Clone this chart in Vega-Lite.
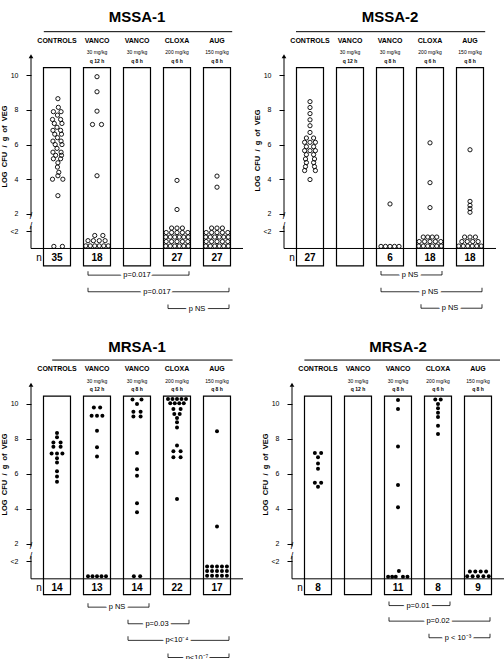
{
"$schema":"https://vega.github.io/schema/vega-lite/v6.json",
"padding":0,
"config":{"view":{"stroke":null},"font":"Liberation Sans"},
"datasets":{
"hd":[{"g":0,"name":"CONTROLS","dose":"","freq":""},{"g":1,"name":"VANCO","dose":"30 mg/kg","freq":"q 12 h"},{"g":2,"name":"VANCO","dose":"30 mg/kg","freq":"q 8 h"},{"g":3,"name":"CLOXA","dose":"200 mg/kg","freq":"q 6 h"},{"g":4,"name":"AUG","dose":"150 mg/kg","freq":"q 8 h"}],
"box":[{"p":"M1","g":0,"n":"35"},{"p":"M1","g":1,"n":"18"},{"p":"M1","g":2,"n":""},{"p":"M1","g":3,"n":"27"},{"p":"M1","g":4,"n":"27"},
{"p":"M2","g":0,"n":"27"},{"p":"M2","g":1,"n":""},{"p":"M2","g":2,"n":"6"},{"p":"M2","g":3,"n":"18"},{"p":"M2","g":4,"n":"18"},
{"p":"R1","g":0,"n":"14"},{"p":"R1","g":1,"n":"13"},{"p":"R1","g":2,"n":"14"},{"p":"R1","g":3,"n":"22"},{"p":"R1","g":4,"n":"17"},
{"p":"R2","g":0,"n":"8"},{"p":"R2","g":1,"n":""},{"p":"R2","g":2,"n":"11"},{"p":"R2","g":3,"n":"8"},{"p":"R2","g":4,"n":"9"}],
"brk":[{"p":"M1","a":1,"b":3,"v":-1.54,"lab":"p=0.017"},{"p":"M1","a":1,"b":4,"v":-2.5,"lab":"p=0.017"},{"p":"M1","a":3,"b":4,"v":-3.47,"lab":"p NS"},
{"p":"M2","a":2,"b":3,"v":-1.53,"lab":"p NS"},{"p":"M2","a":2,"b":4,"v":-2.5,"lab":"p NS"},{"p":"M2","a":3,"b":4,"v":-3.45,"lab":"p NS"},
{"p":"R1","a":1,"b":2,"v":-1.62,"lab":"p NS"},{"p":"R1","a":2,"b":3,"v":-2.57,"lab":"p=0.03"},{"p":"R1","a":2,"b":4,"v":-3.52,"lab":"p<10⁻⁴"},{"p":"R1","a":3,"b":4,"v":-4.5,"lab":"p<10⁻⁷"},
{"p":"R2","a":2,"b":3,"v":-1.53,"lab":"p=0.01"},{"p":"R2","a":2,"b":4,"v":-2.42,"lab":"p=0.02"},{"p":"R2","a":3,"b":4,"v":-3.37,"lab":"p < 10⁻³"}],
"pts":[
{"p":"M1","g":0,"v":8.65,"s":0.2},{"p":"M1","g":0,"v":8.15,"s":0.3},{"p":"M1","g":0,"v":7.9,"s":-0.8},{"p":"M1","g":0,"v":7.9,"s":0.9},{"p":"M1","g":0,"v":7.7,"s":0.1},{"p":"M1","g":0,"v":7.45,"s":-1},{"p":"M1","g":0,"v":7.45,"s":0.8},{"p":"M1","g":0,"v":7.22,"s":-0.6},{"p":"M1","g":0,"v":7.22,"s":1.1},{"p":"M1","g":0,"v":7.0,"s":0},{"p":"M1","g":0,"v":6.82,"s":-0.9},{"p":"M1","g":0,"v":6.82,"s":0.8},{"p":"M1","g":0,"v":6.6,"s":-0.5},{"p":"M1","g":0,"v":6.6,"s":1},{"p":"M1","g":0,"v":6.4,"s":0.1},{"p":"M1","g":0,"v":6.2,"s":-0.9},{"p":"M1","g":0,"v":6.2,"s":0.9},{"p":"M1","g":0,"v":6.0,"s":-0.4},{"p":"M1","g":0,"v":6.0,"s":1.1},{"p":"M1","g":0,"v":5.78,"s":0},{"p":"M1","g":0,"v":5.56,"s":-0.9},{"p":"M1","g":0,"v":5.56,"s":0.9},{"p":"M1","g":0,"v":5.38,"s":-0.3},{"p":"M1","g":0,"v":5.38,"s":1},{"p":"M1","g":0,"v":5.18,"s":-0.8},{"p":"M1","g":0,"v":5.18,"s":0.8},{"p":"M1","g":0,"v":4.95,"s":0.2},{"p":"M1","g":0,"v":4.7,"s":0.1},{"p":"M1","g":0,"v":4.4,"s":0.4},{"p":"M1","g":0,"v":4.2,"s":0.2},{"p":"M1","g":0,"v":4.0,"s":-1},{"p":"M1","g":0,"v":4.0,"s":1.3},{"p":"M1","g":0,"v":3.05,"s":0.2},{"p":"M1","g":0,"v":0.12,"s":-0.7},{"p":"M1","g":0,"v":0.12,"s":1.2},
{"p":"M1","g":1,"v":9.92,"s":0},{"p":"M1","g":1,"v":9.05,"s":0},{"p":"M1","g":1,"v":7.93,"s":0},{"p":"M1","g":1,"v":7.16,"s":-1},{"p":"M1","g":1,"v":7.16,"s":1},{"p":"M1","g":1,"v":4.2,"s":0},{"p":"M1","g":1,"v":0.75,"s":-0.5},{"p":"M1","g":1,"v":0.75,"s":1.3},{"p":"M1","g":1,"v":0.45,"s":-2},{"p":"M1","g":1,"v":0.45,"s":-0.8},{"p":"M1","g":1,"v":0.45,"s":0.5},{"p":"M1","g":1,"v":0.45,"s":1.8},{"p":"M1","g":1,"v":0.15,"s":-2.5},{"p":"M1","g":1,"v":0.15,"s":-1.5},{"p":"M1","g":1,"v":0.15,"s":-0.5},{"p":"M1","g":1,"v":0.15,"s":0.5},{"p":"M1","g":1,"v":0.15,"s":1.5},{"p":"M1","g":1,"v":0.15,"s":2.5},
{"p":"M1","g":3,"v":3.93,"s":0},{"p":"M1","g":3,"v":2.25,"s":0},
{"p":"M1","g":3,"v":0.14,"s":-2.5},{"p":"M1","g":3,"v":0.14,"s":-1.5},{"p":"M1","g":3,"v":0.14,"s":-0.5},{"p":"M1","g":3,"v":0.14,"s":0.5},{"p":"M1","g":3,"v":0.14,"s":1.5},{"p":"M1","g":3,"v":0.14,"s":2.5},
{"p":"M1","g":3,"v":0.4,"s":-2.4},{"p":"M1","g":3,"v":0.4,"s":-1.2},{"p":"M1","g":3,"v":0.4,"s":0},{"p":"M1","g":3,"v":0.4,"s":1.2},{"p":"M1","g":3,"v":0.4,"s":2.4},
{"p":"M1","g":3,"v":0.66,"s":-2.5},{"p":"M1","g":3,"v":0.66,"s":-1.5},{"p":"M1","g":3,"v":0.66,"s":-0.5},{"p":"M1","g":3,"v":0.66,"s":0.5},{"p":"M1","g":3,"v":0.66,"s":1.5},{"p":"M1","g":3,"v":0.66,"s":2.5},
{"p":"M1","g":3,"v":0.92,"s":-2.4},{"p":"M1","g":3,"v":0.92,"s":-1.2},{"p":"M1","g":3,"v":0.92,"s":0},{"p":"M1","g":3,"v":0.92,"s":1.2},{"p":"M1","g":3,"v":0.92,"s":2.4},
{"p":"M1","g":3,"v":1.18,"s":-1.2},{"p":"M1","g":3,"v":1.18,"s":0},{"p":"M1","g":3,"v":1.18,"s":1.2},
{"p":"M1","g":4,"v":4.18,"s":0},{"p":"M1","g":4,"v":3.54,"s":0},
{"p":"M1","g":4,"v":0.14,"s":-2.5},{"p":"M1","g":4,"v":0.14,"s":-1.5},{"p":"M1","g":4,"v":0.14,"s":-0.5},{"p":"M1","g":4,"v":0.14,"s":0.5},{"p":"M1","g":4,"v":0.14,"s":1.5},{"p":"M1","g":4,"v":0.14,"s":2.5},
{"p":"M1","g":4,"v":0.4,"s":-2.4},{"p":"M1","g":4,"v":0.4,"s":-1.2},{"p":"M1","g":4,"v":0.4,"s":0},{"p":"M1","g":4,"v":0.4,"s":1.2},{"p":"M1","g":4,"v":0.4,"s":2.4},
{"p":"M1","g":4,"v":0.66,"s":-2.5},{"p":"M1","g":4,"v":0.66,"s":-1.5},{"p":"M1","g":4,"v":0.66,"s":-0.5},{"p":"M1","g":4,"v":0.66,"s":0.5},{"p":"M1","g":4,"v":0.66,"s":1.5},{"p":"M1","g":4,"v":0.66,"s":2.5},
{"p":"M1","g":4,"v":0.92,"s":-2.4},{"p":"M1","g":4,"v":0.92,"s":-1.2},{"p":"M1","g":4,"v":0.92,"s":0},{"p":"M1","g":4,"v":0.92,"s":1.2},{"p":"M1","g":4,"v":0.92,"s":2.4},
{"p":"M1","g":4,"v":1.18,"s":-1.2},{"p":"M1","g":4,"v":1.18,"s":0},{"p":"M1","g":4,"v":1.18,"s":1.2},
{"p":"M2","g":0,"v":8.48,"s":0},{"p":"M2","g":0,"v":8.14,"s":0},{"p":"M2","g":0,"v":7.79,"s":0},{"p":"M2","g":0,"v":7.43,"s":0},{"p":"M2","g":0,"v":7.09,"s":0},{"p":"M2","g":0,"v":6.7,"s":0},{"p":"M2","g":0,"v":6.38,"s":-0.8},{"p":"M2","g":0,"v":6.38,"s":0.8},{"p":"M2","g":0,"v":6.13,"s":-1.2},{"p":"M2","g":0,"v":6.13,"s":0},{"p":"M2","g":0,"v":6.13,"s":1.2},{"p":"M2","g":0,"v":5.88,"s":-0.8},{"p":"M2","g":0,"v":5.88,"s":0.8},{"p":"M2","g":0,"v":5.65,"s":-1.2},{"p":"M2","g":0,"v":5.65,"s":0},{"p":"M2","g":0,"v":5.65,"s":1.2},{"p":"M2","g":0,"v":5.42,"s":-0.8},{"p":"M2","g":0,"v":5.42,"s":0.8},{"p":"M2","g":0,"v":5.17,"s":-1},{"p":"M2","g":0,"v":5.17,"s":1},{"p":"M2","g":0,"v":4.96,"s":-0.8},{"p":"M2","g":0,"v":4.96,"s":0.8},{"p":"M2","g":0,"v":4.73,"s":-1},{"p":"M2","g":0,"v":4.73,"s":1},{"p":"M2","g":0,"v":4.5,"s":-1.2},{"p":"M2","g":0,"v":4.5,"s":1.2},{"p":"M2","g":0,"v":3.98,"s":0},
{"p":"M2","g":2,"v":2.57,"s":0},{"p":"M2","g":2,"v":0.12,"s":-2},{"p":"M2","g":2,"v":0.12,"s":-1},{"p":"M2","g":2,"v":0.12,"s":0},{"p":"M2","g":2,"v":0.12,"s":1},{"p":"M2","g":2,"v":0.12,"s":2},
{"p":"M2","g":3,"v":6.1,"s":0},{"p":"M2","g":3,"v":3.8,"s":0},{"p":"M2","g":3,"v":2.36,"s":0},
{"p":"M2","g":3,"v":0.14,"s":-2.5},{"p":"M2","g":3,"v":0.14,"s":-1.5},{"p":"M2","g":3,"v":0.14,"s":-0.5},{"p":"M2","g":3,"v":0.14,"s":0.5},{"p":"M2","g":3,"v":0.14,"s":1.5},{"p":"M2","g":3,"v":0.14,"s":2.5},
{"p":"M2","g":3,"v":0.4,"s":-2.4},{"p":"M2","g":3,"v":0.4,"s":-1.2},{"p":"M2","g":3,"v":0.4,"s":0},{"p":"M2","g":3,"v":0.4,"s":1.2},{"p":"M2","g":3,"v":0.4,"s":2.4},
{"p":"M2","g":3,"v":0.66,"s":-1.5},{"p":"M2","g":3,"v":0.66,"s":-0.5},{"p":"M2","g":3,"v":0.66,"s":0.5},{"p":"M2","g":3,"v":0.66,"s":1.5},
{"p":"M2","g":4,"v":5.7,"s":0},{"p":"M2","g":4,"v":2.72,"s":0},{"p":"M2","g":4,"v":2.49,"s":0},{"p":"M2","g":4,"v":2.3,"s":0},{"p":"M2","g":4,"v":2.09,"s":0},
{"p":"M2","g":4,"v":0.14,"s":-2.5},{"p":"M2","g":4,"v":0.14,"s":-1.5},{"p":"M2","g":4,"v":0.14,"s":-0.5},{"p":"M2","g":4,"v":0.14,"s":0.5},{"p":"M2","g":4,"v":0.14,"s":1.5},{"p":"M2","g":4,"v":0.14,"s":2.5},
{"p":"M2","g":4,"v":0.4,"s":-1.8},{"p":"M2","g":4,"v":0.4,"s":-0.6},{"p":"M2","g":4,"v":0.4,"s":0.6},{"p":"M2","g":4,"v":0.4,"s":1.8},
{"p":"M2","g":4,"v":0.66,"s":-1.2},{"p":"M2","g":4,"v":0.66,"s":0},{"p":"M2","g":4,"v":0.66,"s":1.2},
{"p":"R1","g":0,"v":8.34,"s":0},{"p":"R1","g":0,"v":8.09,"s":0},{"p":"R1","g":0,"v":7.8,"s":-0.8},{"p":"R1","g":0,"v":7.8,"s":0.8},{"p":"R1","g":0,"v":7.55,"s":-0.8},{"p":"R1","g":0,"v":7.55,"s":0.8},{"p":"R1","g":0,"v":7.17,"s":-1.2},{"p":"R1","g":0,"v":7.17,"s":0},{"p":"R1","g":0,"v":7.17,"s":1.2},{"p":"R1","g":0,"v":6.9,"s":0},{"p":"R1","g":0,"v":6.65,"s":0},{"p":"R1","g":0,"v":6.15,"s":0},{"p":"R1","g":0,"v":5.85,"s":0},{"p":"R1","g":0,"v":5.55,"s":0},
{"p":"R1","g":1,"v":9.8,"s":-0.7},{"p":"R1","g":1,"v":9.8,"s":0.7},{"p":"R1","g":1,"v":9.32,"s":-1.2},{"p":"R1","g":1,"v":9.32,"s":0},{"p":"R1","g":1,"v":9.32,"s":1.2},{"p":"R1","g":1,"v":8.47,"s":0},{"p":"R1","g":1,"v":7.52,"s":0},{"p":"R1","g":1,"v":7.0,"s":0},{"p":"R1","g":1,"v":0.15,"s":-2},{"p":"R1","g":1,"v":0.15,"s":-1},{"p":"R1","g":1,"v":0.15,"s":0},{"p":"R1","g":1,"v":0.15,"s":1},{"p":"R1","g":1,"v":0.15,"s":2},
{"p":"R1","g":2,"v":10.25,"s":-1},{"p":"R1","g":2,"v":10.25,"s":1},{"p":"R1","g":2,"v":10.0,"s":0},{"p":"R1","g":2,"v":9.55,"s":-0.8},{"p":"R1","g":2,"v":9.55,"s":0.8},{"p":"R1","g":2,"v":9.28,"s":-0.8},{"p":"R1","g":2,"v":9.28,"s":0.8},{"p":"R1","g":2,"v":7.2,"s":0},{"p":"R1","g":2,"v":6.26,"s":0},{"p":"R1","g":2,"v":5.9,"s":0},{"p":"R1","g":2,"v":4.32,"s":0},{"p":"R1","g":2,"v":3.81,"s":0},{"p":"R1","g":2,"v":0.15,"s":-0.7},{"p":"R1","g":2,"v":0.15,"s":0.7},
{"p":"R1","g":3,"v":10.28,"s":-2},{"p":"R1","g":3,"v":10.28,"s":-1},{"p":"R1","g":3,"v":10.28,"s":0},{"p":"R1","g":3,"v":10.28,"s":1},{"p":"R1","g":3,"v":10.28,"s":2},{"p":"R1","g":3,"v":10.04,"s":-1.5},{"p":"R1","g":3,"v":10.04,"s":-0.5},{"p":"R1","g":3,"v":10.04,"s":0.5},{"p":"R1","g":3,"v":10.04,"s":1.5},{"p":"R1","g":3,"v":9.71,"s":-0.8},{"p":"R1","g":3,"v":9.71,"s":0.8},{"p":"R1","g":3,"v":9.43,"s":-0.6},{"p":"R1","g":3,"v":9.43,"s":0.6},{"p":"R1","g":3,"v":9.2,"s":0},{"p":"R1","g":3,"v":8.95,"s":0},{"p":"R1","g":3,"v":8.66,"s":0},{"p":"R1","g":3,"v":7.62,"s":0},{"p":"R1","g":3,"v":7.29,"s":-0.8},{"p":"R1","g":3,"v":7.29,"s":0.8},{"p":"R1","g":3,"v":6.95,"s":-0.8},{"p":"R1","g":3,"v":6.95,"s":0.8},{"p":"R1","g":3,"v":4.57,"s":0},
{"p":"R1","g":4,"v":8.44,"s":0},{"p":"R1","g":4,"v":2.99,"s":0},
{"p":"R1","g":4,"v":0.17,"s":-2.2},{"p":"R1","g":4,"v":0.17,"s":-1.1},{"p":"R1","g":4,"v":0.17,"s":0},{"p":"R1","g":4,"v":0.17,"s":1.1},{"p":"R1","g":4,"v":0.17,"s":2.2},
{"p":"R1","g":4,"v":0.44,"s":-2.2},{"p":"R1","g":4,"v":0.44,"s":-1.1},{"p":"R1","g":4,"v":0.44,"s":0},{"p":"R1","g":4,"v":0.44,"s":1.1},{"p":"R1","g":4,"v":0.44,"s":2.2},
{"p":"R1","g":4,"v":0.7,"s":-2.2},{"p":"R1","g":4,"v":0.7,"s":-1.1},{"p":"R1","g":4,"v":0.7,"s":0},{"p":"R1","g":4,"v":0.7,"s":1.1},{"p":"R1","g":4,"v":0.7,"s":2.2},
{"p":"R2","g":0,"v":7.2,"s":-0.7},{"p":"R2","g":0,"v":7.2,"s":0.7},{"p":"R2","g":0,"v":6.95,"s":0},{"p":"R2","g":0,"v":6.6,"s":0},{"p":"R2","g":0,"v":6.3,"s":0},{"p":"R2","g":0,"v":5.5,"s":-0.7},{"p":"R2","g":0,"v":5.5,"s":0.7},{"p":"R2","g":0,"v":5.27,"s":0},
{"p":"R2","g":2,"v":10.23,"s":0},{"p":"R2","g":2,"v":9.71,"s":0},{"p":"R2","g":2,"v":7.56,"s":0},{"p":"R2","g":2,"v":5.37,"s":0},{"p":"R2","g":2,"v":4.09,"s":0},{"p":"R2","g":2,"v":0.45,"s":0.2},{"p":"R2","g":2,"v":0.12,"s":-2.2},{"p":"R2","g":2,"v":0.12,"s":-1.3},{"p":"R2","g":2,"v":0.12,"s":-0.5},{"p":"R2","g":2,"v":0.12,"s":1.1},{"p":"R2","g":2,"v":0.12,"s":2.1},
{"p":"R2","g":3,"v":10.25,"s":-0.6},{"p":"R2","g":3,"v":10.25,"s":0.6},{"p":"R2","g":3,"v":10.0,"s":0},{"p":"R2","g":3,"v":9.75,"s":0},{"p":"R2","g":3,"v":9.5,"s":0},{"p":"R2","g":3,"v":9.25,"s":0},{"p":"R2","g":3,"v":8.75,"s":0},{"p":"R2","g":3,"v":8.28,"s":0},
{"p":"R2","g":4,"v":0.15,"s":-2.4},{"p":"R2","g":4,"v":0.42,"s":-1.8},{"p":"R2","g":4,"v":0.15,"s":-1.2},{"p":"R2","g":4,"v":0.42,"s":-0.6},{"p":"R2","g":4,"v":0.15,"s":0},{"p":"R2","g":4,"v":0.42,"s":0.6},{"p":"R2","g":4,"v":0.15,"s":1.2},{"p":"R2","g":4,"v":0.42,"s":1.8},{"p":"R2","g":4,"v":0.15,"s":2.4}
]},
"spacing":24,
"vconcat":[
{"spacing":41,"bounds":"flush","hconcat":[
{"width":212,"height":316,"resolve":{"scale":{"x":"independent"}},"layer":[
 {"layer":[
  {"data":{"name":"box"},"transform":[{"filter":"datum.p=='M1'"}],"mark":{"type":"rect","fill":"white","stroke":"black","strokeWidth":1.2,"xOffset":-13.5,"x2Offset":13.5},"encoding":{"x":{"field":"g","type":"quantitative","scale":{"domain":[-0.65,4.65],"nice":false,"zero":false},"axis":null},"x2":{"field":"g"},"y":{"datum":-1,"type":"quantitative","scale":{"domain":[-3.9,14.35],"nice":false,"zero":false}},"y2":{"datum":10.45}}},
  {"data":{"values":[{}]},"mark":{"type":"rule","color":"black","strokeWidth":1},"encoding":{"y":{"datum":0,"type":"quantitative","scale":{"domain":[-3.9,14.35],"nice":false,"zero":false}}}},
  {"data":{"values":[{}]},"mark":{"type":"rule","color":"black","strokeWidth":1},"encoding":{"x":{"datum":-0.65,"type":"quantitative","scale":{"domain":[-0.65,4.65],"nice":false,"zero":false},"axis":null},"y":{"datum":1.85,"type":"quantitative","scale":{"domain":[-3.9,14.35],"nice":false,"zero":false}},"y2":{"datum":11.0}}},
  {"data":{"values":[{}]},"mark":{"type":"rule","color":"black","strokeWidth":1},"encoding":{"x":{"datum":-0.65,"type":"quantitative","scale":{"domain":[-0.65,4.65],"nice":false,"zero":false},"axis":null},"y":{"datum":0,"type":"quantitative","scale":{"domain":[-3.9,14.35],"nice":false,"zero":false}},"y2":{"datum":1.3}}},
  {"data":{"values":[{}]},"mark":{"type":"text","fontSize":9,"color":"black","align":"center","baseline":"middle"},"encoding":{"x":{"datum":-0.65,"type":"quantitative","scale":{"domain":[-0.65,4.65],"nice":false,"zero":false},"axis":null},"y":{"datum":1.85,"type":"quantitative","scale":{"domain":[-3.9,14.35],"nice":false,"zero":false}},"text":{"value":"/"}}},
  {"data":{"values":[{}]},"mark":{"type":"text","fontSize":9,"color":"black","align":"center","baseline":"middle"},"encoding":{"x":{"datum":-0.65,"type":"quantitative","scale":{"domain":[-0.65,4.65],"nice":false,"zero":false},"axis":null},"y":{"datum":1.3,"type":"quantitative","scale":{"domain":[-3.9,14.35],"nice":false,"zero":false}},"text":{"value":"/"}}},
  {"data":{"values":[{}]},"mark":{"type":"point","shape":"triangle-up","filled":true,"color":"black","opacity":1,"size":22},"encoding":{"x":{"datum":-0.65,"type":"quantitative","scale":{"domain":[-0.65,4.65],"nice":false,"zero":false},"axis":null},"y":{"datum":11.1,"type":"quantitative","scale":{"domain":[-3.9,14.35],"nice":false,"zero":false}}}},
  {"data":{"values":[{}]},"mark":{"type":"rule","color":"black","strokeWidth":1},"encoding":{"x":{"datum":-0.33,"type":"quantitative","scale":{"domain":[-0.65,4.65],"nice":false,"zero":false},"axis":null},"x2":{"datum":4.38},"y":{"datum":12.52,"type":"quantitative","scale":{"domain":[-3.9,14.35],"nice":false,"zero":false}}}},
  {"data":{"values":[{}]},"mark":{"type":"text","fontSize":15,"fontWeight":"bold","color":"black","align":"center","baseline":"middle"},"encoding":{"x":{"datum":2,"type":"quantitative","scale":{"domain":[-0.65,4.65],"nice":false,"zero":false},"axis":null},"y":{"datum":13.35,"type":"quantitative","scale":{"domain":[-3.9,14.35],"nice":false,"zero":false}},"text":{"value":"MSSA-1"}}},
  {"data":{"name":"hd"},"mark":{"type":"text","fontSize":7,"fontWeight":"bold","color":"black","align":"center","baseline":"middle"},"encoding":{"x":{"field":"g","type":"quantitative","scale":{"domain":[-0.65,4.65],"nice":false,"zero":false},"axis":null},"y":{"datum":12.0,"type":"quantitative","scale":{"domain":[-3.9,14.35],"nice":false,"zero":false}},"text":{"field":"name"}}},
  {"data":{"name":"hd"},"mark":{"type":"text","fontSize":5,"color":"black","align":"center","baseline":"middle"},"encoding":{"x":{"field":"g","type":"quantitative","scale":{"domain":[-0.65,4.65],"nice":false,"zero":false},"axis":null},"y":{"datum":11.33,"type":"quantitative","scale":{"domain":[-3.9,14.35],"nice":false,"zero":false}},"text":{"field":"dose"}}},
  {"data":{"name":"hd"},"mark":{"type":"text","fontSize":5,"fontWeight":"bold","color":"black","align":"center","baseline":"middle"},"encoding":{"x":{"field":"g","type":"quantitative","scale":{"domain":[-0.65,4.65],"nice":false,"zero":false},"axis":null},"y":{"datum":10.83,"type":"quantitative","scale":{"domain":[-3.9,14.35],"nice":false,"zero":false}},"text":{"field":"freq"}}},
  {"data":{"values":[{}]},"mark":{"type":"text","fontSize":10,"color":"black","align":"center","baseline":"middle"},"encoding":{"x":{"datum":-0.45,"type":"quantitative","scale":{"domain":[-0.65,4.65],"nice":false,"zero":false},"axis":null},"y":{"datum":-0.54,"type":"quantitative","scale":{"domain":[-3.9,14.35],"nice":false,"zero":false}},"text":{"value":"n"}}},
  {"data":{"name":"box"},"transform":[{"filter":"datum.p=='M1'"}],"mark":{"type":"text","fontSize":10,"fontWeight":"bold","color":"black","align":"center","baseline":"middle"},"encoding":{"x":{"field":"g","type":"quantitative","scale":{"domain":[-0.65,4.65],"nice":false,"zero":false},"axis":null},"y":{"datum":-0.54,"type":"quantitative","scale":{"domain":[-3.9,14.35],"nice":false,"zero":false}},"text":{"field":"n"}}},
  {"data":{"name":"brk"},"transform":[{"filter":"datum.p=='M1'"}],"mark":{"type":"rule","color":"black","strokeWidth":0.8,"xOffset":-9,"x2Offset":12},"encoding":{"x":{"field":"a","type":"quantitative","scale":{"domain":[-0.65,4.65],"nice":false,"zero":false},"axis":null},"x2":{"field":"b"},"y":{"field":"v","type":"quantitative","scale":{"domain":[-3.9,14.35],"nice":false,"zero":false}}}},
  {"data":{"name":"brk"},"transform":[{"filter":"datum.p=='M1'"}],"mark":{"type":"tick","orient":"vertical","color":"black","size":4,"thickness":0.8,"yOffset":-2,"xOffset":-9,"opacity":1},"encoding":{"x":{"field":"a","type":"quantitative","scale":{"domain":[-0.65,4.65],"nice":false,"zero":false},"axis":null},"y":{"field":"v","type":"quantitative","scale":{"domain":[-3.9,14.35],"nice":false,"zero":false}}}},
  {"data":{"name":"brk"},"transform":[{"filter":"datum.p=='M1'"}],"mark":{"type":"tick","orient":"vertical","color":"black","size":4,"thickness":0.8,"yOffset":-2,"xOffset":12,"opacity":1},"encoding":{"x":{"field":"b","type":"quantitative","scale":{"domain":[-0.65,4.65],"nice":false,"zero":false},"axis":null},"y":{"field":"v","type":"quantitative","scale":{"domain":[-3.9,14.35],"nice":false,"zero":false}}}},
  {"data":{"name":"brk"},"transform":[{"filter":"datum.p=='M1'"},{"fold":["a","b"],"as":["end","gx"]}],"mark":{"type":"text","fontSize":7.5,"fill":"white","stroke":"white","strokeWidth":5,"align":"center","baseline":"middle"},"encoding":{"x":{"field":"gx","aggregate":"mean","type":"quantitative","scale":{"domain":[-0.65,4.65],"nice":false,"zero":false},"axis":null},"y":{"field":"v","type":"quantitative","scale":{"domain":[-3.9,14.35],"nice":false,"zero":false}},"text":{"field":"lab"}}},
  {"data":{"name":"brk"},"transform":[{"filter":"datum.p=='M1'"},{"fold":["a","b"],"as":["end","gx"]}],"mark":{"type":"text","fontSize":7.5,"color":"black","align":"center","baseline":"middle"},"encoding":{"x":{"field":"gx","aggregate":"mean","type":"quantitative","scale":{"domain":[-0.65,4.65],"nice":false,"zero":false},"axis":null},"y":{"field":"v","type":"quantitative","scale":{"domain":[-3.9,14.35],"nice":false,"zero":false}},"text":{"field":"lab"}}}
 ]},
 {"data":{"name":"pts"},"transform":[{"filter":"datum.p=='M1'"}],"mark":{"type":"point","shape":"circle","filled":false,"color":"black","strokeWidth":0.9,"size":18,"opacity":1},"encoding":{"x":{"field":"g","type":"ordinal","scale":{"type":"band","domain":[0,1,2,3,4],"paddingInner":0.325,"paddingOuter":0.3125},"axis":null},"xOffset":{"field":"s","type":"quantitative","scale":{"domain":[-3,3]}},"y":{"field":"v","type":"quantitative","scale":{"domain":[-3.9,14.35],"nice":false,"zero":false},"axis":{"values":[1,2,4,6,8,10],"labelExpr":"datum.value == 1 ? '<2' : datum.label","title":"LOG\u00a0\u00a0CFU\u00a0\u00a0/\u00a0\u00a0g\u00a0\u00a0of\u00a0\u00a0VEG","titleFontSize":7.5,"titleFontWeight":"bold","titleColor":"black","titleY":146,"titlePadding":2,"labelFontSize":7,"labelColor":"black","tickColor":"black","tickSize":5,"labelPadding":8,"domain":false,"grid":false}}}}
]},
{"width":212,"height":316,"resolve":{"scale":{"x":"independent"}},"layer":[
 {"layer":[
  {"data":{"name":"box"},"transform":[{"filter":"datum.p=='M2'"}],"mark":{"type":"rect","fill":"white","stroke":"black","strokeWidth":1.2,"xOffset":-13.5,"x2Offset":13.5},"encoding":{"x":{"field":"g","type":"quantitative","scale":{"domain":[-0.65,4.65],"nice":false,"zero":false},"axis":null},"x2":{"field":"g"},"y":{"datum":-1,"type":"quantitative","scale":{"domain":[-3.9,14.35],"nice":false,"zero":false}},"y2":{"datum":10.45}}},
  {"data":{"values":[{}]},"mark":{"type":"rule","color":"black","strokeWidth":1},"encoding":{"y":{"datum":0,"type":"quantitative","scale":{"domain":[-3.9,14.35],"nice":false,"zero":false}}}},
  {"data":{"values":[{}]},"mark":{"type":"rule","color":"black","strokeWidth":1},"encoding":{"x":{"datum":-0.65,"type":"quantitative","scale":{"domain":[-0.65,4.65],"nice":false,"zero":false},"axis":null},"y":{"datum":1.85,"type":"quantitative","scale":{"domain":[-3.9,14.35],"nice":false,"zero":false}},"y2":{"datum":11.0}}},
  {"data":{"values":[{}]},"mark":{"type":"rule","color":"black","strokeWidth":1},"encoding":{"x":{"datum":-0.65,"type":"quantitative","scale":{"domain":[-0.65,4.65],"nice":false,"zero":false},"axis":null},"y":{"datum":0,"type":"quantitative","scale":{"domain":[-3.9,14.35],"nice":false,"zero":false}},"y2":{"datum":1.3}}},
  {"data":{"values":[{}]},"mark":{"type":"text","fontSize":9,"color":"black","align":"center","baseline":"middle"},"encoding":{"x":{"datum":-0.65,"type":"quantitative","scale":{"domain":[-0.65,4.65],"nice":false,"zero":false},"axis":null},"y":{"datum":1.85,"type":"quantitative","scale":{"domain":[-3.9,14.35],"nice":false,"zero":false}},"text":{"value":"/"}}},
  {"data":{"values":[{}]},"mark":{"type":"text","fontSize":9,"color":"black","align":"center","baseline":"middle"},"encoding":{"x":{"datum":-0.65,"type":"quantitative","scale":{"domain":[-0.65,4.65],"nice":false,"zero":false},"axis":null},"y":{"datum":1.3,"type":"quantitative","scale":{"domain":[-3.9,14.35],"nice":false,"zero":false}},"text":{"value":"/"}}},
  {"data":{"values":[{}]},"mark":{"type":"point","shape":"triangle-up","filled":true,"color":"black","opacity":1,"size":22},"encoding":{"x":{"datum":-0.65,"type":"quantitative","scale":{"domain":[-0.65,4.65],"nice":false,"zero":false},"axis":null},"y":{"datum":11.1,"type":"quantitative","scale":{"domain":[-3.9,14.35],"nice":false,"zero":false}}}},
  {"data":{"values":[{}]},"mark":{"type":"rule","color":"black","strokeWidth":1},"encoding":{"x":{"datum":-0.35,"type":"quantitative","scale":{"domain":[-0.65,4.65],"nice":false,"zero":false},"axis":null},"x2":{"datum":4.38},"y":{"datum":12.52,"type":"quantitative","scale":{"domain":[-3.9,14.35],"nice":false,"zero":false}}}},
  {"data":{"values":[{}]},"mark":{"type":"text","fontSize":15,"fontWeight":"bold","color":"black","align":"center","baseline":"middle"},"encoding":{"x":{"datum":2,"type":"quantitative","scale":{"domain":[-0.65,4.65],"nice":false,"zero":false},"axis":null},"y":{"datum":13.35,"type":"quantitative","scale":{"domain":[-3.9,14.35],"nice":false,"zero":false}},"text":{"value":"MSSA-2"}}},
  {"data":{"name":"hd"},"mark":{"type":"text","fontSize":7,"fontWeight":"bold","color":"black","align":"center","baseline":"middle"},"encoding":{"x":{"field":"g","type":"quantitative","scale":{"domain":[-0.65,4.65],"nice":false,"zero":false},"axis":null},"y":{"datum":12.0,"type":"quantitative","scale":{"domain":[-3.9,14.35],"nice":false,"zero":false}},"text":{"field":"name"}}},
  {"data":{"name":"hd"},"mark":{"type":"text","fontSize":5,"color":"black","align":"center","baseline":"middle"},"encoding":{"x":{"field":"g","type":"quantitative","scale":{"domain":[-0.65,4.65],"nice":false,"zero":false},"axis":null},"y":{"datum":11.33,"type":"quantitative","scale":{"domain":[-3.9,14.35],"nice":false,"zero":false}},"text":{"field":"dose"}}},
  {"data":{"name":"hd"},"mark":{"type":"text","fontSize":5,"fontWeight":"bold","color":"black","align":"center","baseline":"middle"},"encoding":{"x":{"field":"g","type":"quantitative","scale":{"domain":[-0.65,4.65],"nice":false,"zero":false},"axis":null},"y":{"datum":10.83,"type":"quantitative","scale":{"domain":[-3.9,14.35],"nice":false,"zero":false}},"text":{"field":"freq"}}},
  {"data":{"values":[{}]},"mark":{"type":"text","fontSize":10,"color":"black","align":"center","baseline":"middle"},"encoding":{"x":{"datum":-0.45,"type":"quantitative","scale":{"domain":[-0.65,4.65],"nice":false,"zero":false},"axis":null},"y":{"datum":-0.54,"type":"quantitative","scale":{"domain":[-3.9,14.35],"nice":false,"zero":false}},"text":{"value":"n"}}},
  {"data":{"name":"box"},"transform":[{"filter":"datum.p=='M2'"}],"mark":{"type":"text","fontSize":10,"fontWeight":"bold","color":"black","align":"center","baseline":"middle"},"encoding":{"x":{"field":"g","type":"quantitative","scale":{"domain":[-0.65,4.65],"nice":false,"zero":false},"axis":null},"y":{"datum":-0.54,"type":"quantitative","scale":{"domain":[-3.9,14.35],"nice":false,"zero":false}},"text":{"field":"n"}}},
  {"data":{"name":"brk"},"transform":[{"filter":"datum.p=='M2'"}],"mark":{"type":"rule","color":"black","strokeWidth":0.8,"xOffset":-9,"x2Offset":12},"encoding":{"x":{"field":"a","type":"quantitative","scale":{"domain":[-0.65,4.65],"nice":false,"zero":false},"axis":null},"x2":{"field":"b"},"y":{"field":"v","type":"quantitative","scale":{"domain":[-3.9,14.35],"nice":false,"zero":false}}}},
  {"data":{"name":"brk"},"transform":[{"filter":"datum.p=='M2'"}],"mark":{"type":"tick","orient":"vertical","color":"black","size":4,"thickness":0.8,"yOffset":-2,"xOffset":-9,"opacity":1},"encoding":{"x":{"field":"a","type":"quantitative","scale":{"domain":[-0.65,4.65],"nice":false,"zero":false},"axis":null},"y":{"field":"v","type":"quantitative","scale":{"domain":[-3.9,14.35],"nice":false,"zero":false}}}},
  {"data":{"name":"brk"},"transform":[{"filter":"datum.p=='M2'"}],"mark":{"type":"tick","orient":"vertical","color":"black","size":4,"thickness":0.8,"yOffset":-2,"xOffset":12,"opacity":1},"encoding":{"x":{"field":"b","type":"quantitative","scale":{"domain":[-0.65,4.65],"nice":false,"zero":false},"axis":null},"y":{"field":"v","type":"quantitative","scale":{"domain":[-3.9,14.35],"nice":false,"zero":false}}}},
  {"data":{"name":"brk"},"transform":[{"filter":"datum.p=='M2'"},{"fold":["a","b"],"as":["end","gx"]}],"mark":{"type":"text","fontSize":7.5,"fill":"white","stroke":"white","strokeWidth":5,"align":"center","baseline":"middle"},"encoding":{"x":{"field":"gx","aggregate":"mean","type":"quantitative","scale":{"domain":[-0.65,4.65],"nice":false,"zero":false},"axis":null},"y":{"field":"v","type":"quantitative","scale":{"domain":[-3.9,14.35],"nice":false,"zero":false}},"text":{"field":"lab"}}},
  {"data":{"name":"brk"},"transform":[{"filter":"datum.p=='M2'"},{"fold":["a","b"],"as":["end","gx"]}],"mark":{"type":"text","fontSize":7.5,"color":"black","align":"center","baseline":"middle"},"encoding":{"x":{"field":"gx","aggregate":"mean","type":"quantitative","scale":{"domain":[-0.65,4.65],"nice":false,"zero":false},"axis":null},"y":{"field":"v","type":"quantitative","scale":{"domain":[-3.9,14.35],"nice":false,"zero":false}},"text":{"field":"lab"}}}
 ]},
 {"data":{"name":"pts"},"transform":[{"filter":"datum.p=='M2'"}],"mark":{"type":"point","shape":"circle","filled":false,"color":"black","strokeWidth":0.9,"size":18,"opacity":1},"encoding":{"x":{"field":"g","type":"ordinal","scale":{"type":"band","domain":[0,1,2,3,4],"paddingInner":0.325,"paddingOuter":0.3125},"axis":null},"xOffset":{"field":"s","type":"quantitative","scale":{"domain":[-3,3]}},"y":{"field":"v","type":"quantitative","scale":{"domain":[-3.9,14.35],"nice":false,"zero":false},"axis":{"values":[1,2,4,6,8,10],"labelExpr":"datum.value == 1 ? '<2' : datum.label","title":"LOG\u00a0\u00a0CFU\u00a0\u00a0/\u00a0\u00a0g\u00a0\u00a0of\u00a0\u00a0VEG","titleFontSize":7.5,"titleFontWeight":"bold","titleColor":"black","titleY":150,"titlePadding":2,"labelFontSize":7,"labelColor":"black","tickColor":"black","tickSize":5,"labelPadding":8,"domain":false,"grid":false}}}}
]}
]},
{"spacing":49,"bounds":"flush","hconcat":[
{"width":212,"height":320,"resolve":{"scale":{"x":"independent"}},"layer":[
 {"layer":[
  {"data":{"name":"box"},"transform":[{"filter":"datum.p=='R1'"}],"mark":{"type":"rect","fill":"white","stroke":"black","strokeWidth":1.2,"xOffset":-13.5,"x2Offset":13.5},"encoding":{"x":{"field":"g","type":"quantitative","scale":{"domain":[-0.65,4.65],"nice":false,"zero":false},"axis":null},"x2":{"field":"g"},"y":{"datum":-0.9,"type":"quantitative","scale":{"domain":[-4.7,13.6],"nice":false,"zero":false}},"y2":{"datum":10.45}}},
  {"data":{"values":[{}]},"mark":{"type":"rule","color":"black","strokeWidth":1},"encoding":{"y":{"datum":0,"type":"quantitative","scale":{"domain":[-4.7,13.6],"nice":false,"zero":false}}}},
  {"data":{"values":[{}]},"mark":{"type":"rule","color":"black","strokeWidth":1},"encoding":{"x":{"datum":-0.65,"type":"quantitative","scale":{"domain":[-0.65,4.65],"nice":false,"zero":false},"axis":null},"y":{"datum":1.85,"type":"quantitative","scale":{"domain":[-4.7,13.6],"nice":false,"zero":false}},"y2":{"datum":11.0}}},
  {"data":{"values":[{}]},"mark":{"type":"rule","color":"black","strokeWidth":1},"encoding":{"x":{"datum":-0.65,"type":"quantitative","scale":{"domain":[-0.65,4.65],"nice":false,"zero":false},"axis":null},"y":{"datum":0,"type":"quantitative","scale":{"domain":[-4.7,13.6],"nice":false,"zero":false}},"y2":{"datum":1.3}}},
  {"data":{"values":[{}]},"mark":{"type":"text","fontSize":9,"color":"black","align":"center","baseline":"middle"},"encoding":{"x":{"datum":-0.65,"type":"quantitative","scale":{"domain":[-0.65,4.65],"nice":false,"zero":false},"axis":null},"y":{"datum":1.85,"type":"quantitative","scale":{"domain":[-4.7,13.6],"nice":false,"zero":false}},"text":{"value":"/"}}},
  {"data":{"values":[{}]},"mark":{"type":"text","fontSize":9,"color":"black","align":"center","baseline":"middle"},"encoding":{"x":{"datum":-0.65,"type":"quantitative","scale":{"domain":[-0.65,4.65],"nice":false,"zero":false},"axis":null},"y":{"datum":1.3,"type":"quantitative","scale":{"domain":[-4.7,13.6],"nice":false,"zero":false}},"text":{"value":"/"}}},
  {"data":{"values":[{}]},"mark":{"type":"point","shape":"triangle-up","filled":true,"color":"black","opacity":1,"size":22},"encoding":{"x":{"datum":-0.65,"type":"quantitative","scale":{"domain":[-0.65,4.65],"nice":false,"zero":false},"axis":null},"y":{"datum":11.1,"type":"quantitative","scale":{"domain":[-4.7,13.6],"nice":false,"zero":false}}}},
  {"data":{"values":[{}]},"mark":{"type":"rule","color":"black","strokeWidth":1},"encoding":{"x":{"datum":-0.12,"type":"quantitative","scale":{"domain":[-0.65,4.65],"nice":false,"zero":false},"axis":null},"x2":{"datum":4.39},"y":{"datum":12.51,"type":"quantitative","scale":{"domain":[-4.7,13.6],"nice":false,"zero":false}}}},
  {"data":{"values":[{}]},"mark":{"type":"text","fontSize":15,"fontWeight":"bold","color":"black","align":"center","baseline":"middle"},"encoding":{"x":{"datum":2,"type":"quantitative","scale":{"domain":[-0.65,4.65],"nice":false,"zero":false},"axis":null},"y":{"datum":13.23,"type":"quantitative","scale":{"domain":[-4.7,13.6],"nice":false,"zero":false}},"text":{"value":"MRSA-1"}}},
  {"data":{"name":"hd"},"mark":{"type":"text","fontSize":7,"fontWeight":"bold","color":"black","align":"center","baseline":"middle"},"encoding":{"x":{"field":"g","type":"quantitative","scale":{"domain":[-0.65,4.65],"nice":false,"zero":false},"axis":null},"y":{"datum":12.0,"type":"quantitative","scale":{"domain":[-4.7,13.6],"nice":false,"zero":false}},"text":{"field":"name"}}},
  {"data":{"name":"hd"},"mark":{"type":"text","fontSize":5,"color":"black","align":"center","baseline":"middle"},"encoding":{"x":{"field":"g","type":"quantitative","scale":{"domain":[-0.65,4.65],"nice":false,"zero":false},"axis":null},"y":{"datum":11.33,"type":"quantitative","scale":{"domain":[-4.7,13.6],"nice":false,"zero":false}},"text":{"field":"dose"}}},
  {"data":{"name":"hd"},"mark":{"type":"text","fontSize":5,"fontWeight":"bold","color":"black","align":"center","baseline":"middle"},"encoding":{"x":{"field":"g","type":"quantitative","scale":{"domain":[-0.65,4.65],"nice":false,"zero":false},"axis":null},"y":{"datum":10.83,"type":"quantitative","scale":{"domain":[-4.7,13.6],"nice":false,"zero":false}},"text":{"field":"freq"}}},
  {"data":{"values":[{}]},"mark":{"type":"text","fontSize":10,"color":"black","align":"center","baseline":"middle"},"encoding":{"x":{"datum":-0.45,"type":"quantitative","scale":{"domain":[-0.65,4.65],"nice":false,"zero":false},"axis":null},"y":{"datum":-0.54,"type":"quantitative","scale":{"domain":[-4.7,13.6],"nice":false,"zero":false}},"text":{"value":"n"}}},
  {"data":{"name":"box"},"transform":[{"filter":"datum.p=='R1'"}],"mark":{"type":"text","fontSize":10,"fontWeight":"bold","color":"black","align":"center","baseline":"middle"},"encoding":{"x":{"field":"g","type":"quantitative","scale":{"domain":[-0.65,4.65],"nice":false,"zero":false},"axis":null},"y":{"datum":-0.54,"type":"quantitative","scale":{"domain":[-4.7,13.6],"nice":false,"zero":false}},"text":{"field":"n"}}},
  {"data":{"name":"brk"},"transform":[{"filter":"datum.p=='R1'"}],"mark":{"type":"rule","color":"black","strokeWidth":0.8,"xOffset":-9,"x2Offset":12},"encoding":{"x":{"field":"a","type":"quantitative","scale":{"domain":[-0.65,4.65],"nice":false,"zero":false},"axis":null},"x2":{"field":"b"},"y":{"field":"v","type":"quantitative","scale":{"domain":[-4.7,13.6],"nice":false,"zero":false}}}},
  {"data":{"name":"brk"},"transform":[{"filter":"datum.p=='R1'"}],"mark":{"type":"tick","orient":"vertical","color":"black","size":4,"thickness":0.8,"yOffset":-2,"xOffset":-9,"opacity":1},"encoding":{"x":{"field":"a","type":"quantitative","scale":{"domain":[-0.65,4.65],"nice":false,"zero":false},"axis":null},"y":{"field":"v","type":"quantitative","scale":{"domain":[-4.7,13.6],"nice":false,"zero":false}}}},
  {"data":{"name":"brk"},"transform":[{"filter":"datum.p=='R1'"}],"mark":{"type":"tick","orient":"vertical","color":"black","size":4,"thickness":0.8,"yOffset":-2,"xOffset":12,"opacity":1},"encoding":{"x":{"field":"b","type":"quantitative","scale":{"domain":[-0.65,4.65],"nice":false,"zero":false},"axis":null},"y":{"field":"v","type":"quantitative","scale":{"domain":[-4.7,13.6],"nice":false,"zero":false}}}},
  {"data":{"name":"brk"},"transform":[{"filter":"datum.p=='R1'"},{"fold":["a","b"],"as":["end","gx"]}],"mark":{"type":"text","fontSize":7.5,"fill":"white","stroke":"white","strokeWidth":5,"align":"center","baseline":"middle"},"encoding":{"x":{"field":"gx","aggregate":"mean","type":"quantitative","scale":{"domain":[-0.65,4.65],"nice":false,"zero":false},"axis":null},"y":{"field":"v","type":"quantitative","scale":{"domain":[-4.7,13.6],"nice":false,"zero":false}},"text":{"field":"lab"}}},
  {"data":{"name":"brk"},"transform":[{"filter":"datum.p=='R1'"},{"fold":["a","b"],"as":["end","gx"]}],"mark":{"type":"text","fontSize":7.5,"color":"black","align":"center","baseline":"middle"},"encoding":{"x":{"field":"gx","aggregate":"mean","type":"quantitative","scale":{"domain":[-0.65,4.65],"nice":false,"zero":false},"axis":null},"y":{"field":"v","type":"quantitative","scale":{"domain":[-4.7,13.6],"nice":false,"zero":false}},"text":{"field":"lab"}}}
 ]},
 {"data":{"name":"pts"},"transform":[{"filter":"datum.p=='R1'"}],"mark":{"type":"point","shape":"circle","filled":true,"color":"black","size":16,"opacity":1},"encoding":{"x":{"field":"g","type":"ordinal","scale":{"type":"band","domain":[0,1,2,3,4],"paddingInner":0.325,"paddingOuter":0.3125},"axis":null},"xOffset":{"field":"s","type":"quantitative","scale":{"domain":[-3,3]}},"y":{"field":"v","type":"quantitative","scale":{"domain":[-4.7,13.6],"nice":false,"zero":false},"axis":{"values":[1,2,4,6,8,10],"labelExpr":"datum.value == 1 ? '<2' : datum.label","title":"LOG\u00a0\u00a0CFU\u00a0\u00a0/\u00a0\u00a0g\u00a0\u00a0of\u00a0\u00a0VEG","titleFontSize":7.5,"titleFontWeight":"bold","titleColor":"black","titleY":133,"titlePadding":2,"labelFontSize":7,"labelColor":"black","tickColor":"black","tickSize":5,"labelPadding":8,"domain":false,"grid":false}}}}
]},
{"width":212,"height":320,"resolve":{"scale":{"x":"independent"}},"layer":[
 {"layer":[
  {"data":{"name":"box"},"transform":[{"filter":"datum.p=='R2'"}],"mark":{"type":"rect","fill":"white","stroke":"black","strokeWidth":1.2,"xOffset":-13.5,"x2Offset":13.5},"encoding":{"x":{"field":"g","type":"quantitative","scale":{"domain":[-0.65,4.65],"nice":false,"zero":false},"axis":null},"x2":{"field":"g"},"y":{"datum":-0.9,"type":"quantitative","scale":{"domain":[-4.7,13.6],"nice":false,"zero":false}},"y2":{"datum":10.45}}},
  {"data":{"values":[{}]},"mark":{"type":"rule","color":"black","strokeWidth":1},"encoding":{"y":{"datum":0,"type":"quantitative","scale":{"domain":[-4.7,13.6],"nice":false,"zero":false}}}},
  {"data":{"values":[{}]},"mark":{"type":"rule","color":"black","strokeWidth":1},"encoding":{"x":{"datum":-0.65,"type":"quantitative","scale":{"domain":[-0.65,4.65],"nice":false,"zero":false},"axis":null},"y":{"datum":1.85,"type":"quantitative","scale":{"domain":[-4.7,13.6],"nice":false,"zero":false}},"y2":{"datum":11.0}}},
  {"data":{"values":[{}]},"mark":{"type":"rule","color":"black","strokeWidth":1},"encoding":{"x":{"datum":-0.65,"type":"quantitative","scale":{"domain":[-0.65,4.65],"nice":false,"zero":false},"axis":null},"y":{"datum":0,"type":"quantitative","scale":{"domain":[-4.7,13.6],"nice":false,"zero":false}},"y2":{"datum":1.3}}},
  {"data":{"values":[{}]},"mark":{"type":"text","fontSize":9,"color":"black","align":"center","baseline":"middle"},"encoding":{"x":{"datum":-0.65,"type":"quantitative","scale":{"domain":[-0.65,4.65],"nice":false,"zero":false},"axis":null},"y":{"datum":1.85,"type":"quantitative","scale":{"domain":[-4.7,13.6],"nice":false,"zero":false}},"text":{"value":"/"}}},
  {"data":{"values":[{}]},"mark":{"type":"text","fontSize":9,"color":"black","align":"center","baseline":"middle"},"encoding":{"x":{"datum":-0.65,"type":"quantitative","scale":{"domain":[-0.65,4.65],"nice":false,"zero":false},"axis":null},"y":{"datum":1.3,"type":"quantitative","scale":{"domain":[-4.7,13.6],"nice":false,"zero":false}},"text":{"value":"/"}}},
  {"data":{"values":[{}]},"mark":{"type":"point","shape":"triangle-up","filled":true,"color":"black","opacity":1,"size":22},"encoding":{"x":{"datum":-0.65,"type":"quantitative","scale":{"domain":[-0.65,4.65],"nice":false,"zero":false},"axis":null},"y":{"datum":11.1,"type":"quantitative","scale":{"domain":[-4.7,13.6],"nice":false,"zero":false}}}},
  {"data":{"values":[{}]},"mark":{"type":"rule","color":"black","strokeWidth":1},"encoding":{"x":{"datum":-0.34,"type":"quantitative","scale":{"domain":[-0.65,4.65],"nice":false,"zero":false},"axis":null},"x2":{"datum":4.55},"y":{"datum":12.51,"type":"quantitative","scale":{"domain":[-4.7,13.6],"nice":false,"zero":false}}}},
  {"data":{"values":[{}]},"mark":{"type":"text","fontSize":15,"fontWeight":"bold","color":"black","align":"center","baseline":"middle"},"encoding":{"x":{"datum":2,"type":"quantitative","scale":{"domain":[-0.65,4.65],"nice":false,"zero":false},"axis":null},"y":{"datum":13.23,"type":"quantitative","scale":{"domain":[-4.7,13.6],"nice":false,"zero":false}},"text":{"value":"MRSA-2"}}},
  {"data":{"name":"hd"},"mark":{"type":"text","fontSize":7,"fontWeight":"bold","color":"black","align":"center","baseline":"middle"},"encoding":{"x":{"field":"g","type":"quantitative","scale":{"domain":[-0.65,4.65],"nice":false,"zero":false},"axis":null},"y":{"datum":12.0,"type":"quantitative","scale":{"domain":[-4.7,13.6],"nice":false,"zero":false}},"text":{"field":"name"}}},
  {"data":{"name":"hd"},"mark":{"type":"text","fontSize":5,"color":"black","align":"center","baseline":"middle"},"encoding":{"x":{"field":"g","type":"quantitative","scale":{"domain":[-0.65,4.65],"nice":false,"zero":false},"axis":null},"y":{"datum":11.33,"type":"quantitative","scale":{"domain":[-4.7,13.6],"nice":false,"zero":false}},"text":{"field":"dose"}}},
  {"data":{"name":"hd"},"mark":{"type":"text","fontSize":5,"fontWeight":"bold","color":"black","align":"center","baseline":"middle"},"encoding":{"x":{"field":"g","type":"quantitative","scale":{"domain":[-0.65,4.65],"nice":false,"zero":false},"axis":null},"y":{"datum":10.83,"type":"quantitative","scale":{"domain":[-4.7,13.6],"nice":false,"zero":false}},"text":{"field":"freq"}}},
  {"data":{"values":[{}]},"mark":{"type":"text","fontSize":10,"color":"black","align":"center","baseline":"middle"},"encoding":{"x":{"datum":-0.45,"type":"quantitative","scale":{"domain":[-0.65,4.65],"nice":false,"zero":false},"axis":null},"y":{"datum":-0.54,"type":"quantitative","scale":{"domain":[-4.7,13.6],"nice":false,"zero":false}},"text":{"value":"n"}}},
  {"data":{"name":"box"},"transform":[{"filter":"datum.p=='R2'"}],"mark":{"type":"text","fontSize":10,"fontWeight":"bold","color":"black","align":"center","baseline":"middle"},"encoding":{"x":{"field":"g","type":"quantitative","scale":{"domain":[-0.65,4.65],"nice":false,"zero":false},"axis":null},"y":{"datum":-0.54,"type":"quantitative","scale":{"domain":[-4.7,13.6],"nice":false,"zero":false}},"text":{"field":"n"}}},
  {"data":{"name":"brk"},"transform":[{"filter":"datum.p=='R2'"}],"mark":{"type":"rule","color":"black","strokeWidth":0.8,"xOffset":-9,"x2Offset":12},"encoding":{"x":{"field":"a","type":"quantitative","scale":{"domain":[-0.65,4.65],"nice":false,"zero":false},"axis":null},"x2":{"field":"b"},"y":{"field":"v","type":"quantitative","scale":{"domain":[-4.7,13.6],"nice":false,"zero":false}}}},
  {"data":{"name":"brk"},"transform":[{"filter":"datum.p=='R2'"}],"mark":{"type":"tick","orient":"vertical","color":"black","size":4,"thickness":0.8,"yOffset":-2,"xOffset":-9,"opacity":1},"encoding":{"x":{"field":"a","type":"quantitative","scale":{"domain":[-0.65,4.65],"nice":false,"zero":false},"axis":null},"y":{"field":"v","type":"quantitative","scale":{"domain":[-4.7,13.6],"nice":false,"zero":false}}}},
  {"data":{"name":"brk"},"transform":[{"filter":"datum.p=='R2'"}],"mark":{"type":"tick","orient":"vertical","color":"black","size":4,"thickness":0.8,"yOffset":-2,"xOffset":12,"opacity":1},"encoding":{"x":{"field":"b","type":"quantitative","scale":{"domain":[-0.65,4.65],"nice":false,"zero":false},"axis":null},"y":{"field":"v","type":"quantitative","scale":{"domain":[-4.7,13.6],"nice":false,"zero":false}}}},
  {"data":{"name":"brk"},"transform":[{"filter":"datum.p=='R2'"},{"fold":["a","b"],"as":["end","gx"]}],"mark":{"type":"text","fontSize":7.5,"fill":"white","stroke":"white","strokeWidth":5,"align":"center","baseline":"middle"},"encoding":{"x":{"field":"gx","aggregate":"mean","type":"quantitative","scale":{"domain":[-0.65,4.65],"nice":false,"zero":false},"axis":null},"y":{"field":"v","type":"quantitative","scale":{"domain":[-4.7,13.6],"nice":false,"zero":false}},"text":{"field":"lab"}}},
  {"data":{"name":"brk"},"transform":[{"filter":"datum.p=='R2'"},{"fold":["a","b"],"as":["end","gx"]}],"mark":{"type":"text","fontSize":7.5,"color":"black","align":"center","baseline":"middle"},"encoding":{"x":{"field":"gx","aggregate":"mean","type":"quantitative","scale":{"domain":[-0.65,4.65],"nice":false,"zero":false},"axis":null},"y":{"field":"v","type":"quantitative","scale":{"domain":[-4.7,13.6],"nice":false,"zero":false}},"text":{"field":"lab"}}}
 ]},
 {"data":{"name":"pts"},"transform":[{"filter":"datum.p=='R2'"}],"mark":{"type":"point","shape":"circle","filled":true,"color":"black","size":16,"opacity":1},"encoding":{"x":{"field":"g","type":"ordinal","scale":{"type":"band","domain":[0,1,2,3,4],"paddingInner":0.325,"paddingOuter":0.3125},"axis":null},"xOffset":{"field":"s","type":"quantitative","scale":{"domain":[-3,3]}},"y":{"field":"v","type":"quantitative","scale":{"domain":[-4.7,13.6],"nice":false,"zero":false},"axis":{"values":[1,2,4,6,8,10],"labelExpr":"datum.value == 1 ? '<2' : datum.label","title":"LOG\u00a0\u00a0CFU\u00a0\u00a0/\u00a0\u00a0g\u00a0\u00a0of\u00a0\u00a0VEG","titleFontSize":7.5,"titleFontWeight":"bold","titleColor":"black","titleY":133,"titlePadding":2,"labelFontSize":7,"labelColor":"black","tickColor":"black","tickSize":5,"labelPadding":8,"domain":false,"grid":false}}}}
]}
]}
]
}
